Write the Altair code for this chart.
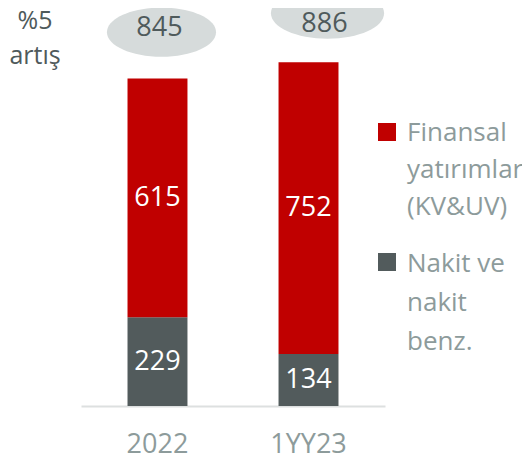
import altair as alt
import pandas as pd

categories = ["2022", "1YY23"]
nakit = [229, 134]
finansal = [615, 752]
totals = [845, 886]
series = ["Nakit ve nakit benz.", "Finansal yatırımlar (KV&UV)"]
legend_fin = "Finansal\nyatırımlar\n(KV&UV)"
legend_nakit = "Nakit ve\nnakit\nbenz."
note_text = "%5\nartış"

FONT = "Open Sans"
RED = "#C00000"
GRAY = "#525B5C"
ELL = "#D6DBDB"
DARK = "#4F5A5B"
LIGHT = "#8D9B9B"
ELLIPSE = "M-1,0A1,0.45,0,1,0,1,0A1,0.45,0,1,0,-1,0Z"

rows = []
for i, c in enumerate(categories):
    rows.append({"cat": c, "series": series[0], "value": nakit[i], "order": 0})
    rows.append({"cat": c, "series": series[1], "value": finansal[i], "order": 1})
df = pd.DataFrame(rows)
tot = pd.DataFrame({"cat": categories, "total": totals})

xs = alt.X(
    "cat:N",
    sort=categories,
    scale=alt.Scale(paddingInner=0.603, paddingOuter=0.308),
    axis=alt.Axis(
        title=None, labelAngle=0, ticks=False, domainColor="#DDE0E0",
        domainWidth=2, labelColor=LIGHT, labelFontSize=27, labelPadding=25,
        labelFont=FONT,
    ),
)
yscale = alt.Scale(domain=[0, 1000])

base = (
    alt.Chart(df)
    .transform_stack(stack="value", groupby=["cat"], as_=["v0", "v1"],
                     sort=[alt.SortField("order")])
    .transform_calculate(mid="(datum.v0 + datum.v1) / 2")
)

bars = base.mark_bar().encode(
    x=xs,
    y=alt.Y("v0:Q", scale=yscale, axis=None),
    y2="v1:Q",
    color=alt.Color("series:N", scale=alt.Scale(domain=series, range=[GRAY, RED]), legend=None),
)
vals = base.mark_text(color="white", fontSize=27, font=FONT, baseline="middle").encode(
    x=xs, y=alt.Y("mid:Q", scale=yscale), text="value:Q"
)

tb = alt.Chart(tot)
ell1 = tb.transform_filter(alt.datum.cat == categories[0]).mark_point(
    shape=ELLIPSE, size=11900, filled=True, fill=ELL, opacity=1, xOffset=4, yOffset=-46
).encode(x=xs, y=alt.Y("total:Q", scale=yscale))
ell2 = tb.transform_filter(alt.datum.cat == categories[1]).mark_point(
    shape=ELLIPSE, size=12800, filled=True, fill=ELL, opacity=1, xOffset=19, yOffset=-49
).encode(x=xs, y=alt.Y("total:Q", scale=yscale))
t1 = tb.transform_filter(alt.datum.cat == categories[0]).mark_text(
    fontSize=27, font=FONT, color=DARK, baseline="middle", dx=2, dy=-50
).encode(x=xs, y=alt.Y("total:Q", scale=yscale), text="total:Q")
t2 = tb.transform_filter(alt.datum.cat == categories[1]).mark_text(
    fontSize=27, font=FONT, color=DARK, baseline="middle", dx=16, dy=-38
).encode(x=xs, y=alt.Y("total:Q", scale=yscale), text="total:Q")

note = alt.Chart(pd.DataFrame({"t": [note_text]})).mark_text(
    fontSize=25, font=FONT, color=DARK, align="center", baseline="alphabetic",
    lineBreak="\n", lineHeight=35,
).encode(x=alt.value(-46), y=alt.value(11), text="t:N")

leg_df = pd.DataFrame({"t": [legend_fin, legend_nakit], "s": [series[1], series[0]]})
sq1 = alt.Chart(leg_df).transform_filter(alt.datum.s == series[1]).mark_square(
    size=324, filled=True, opacity=1, color=RED
).encode(x=alt.value(306), y=alt.value(114))
sq2 = alt.Chart(leg_df).transform_filter(alt.datum.s == series[0]).mark_square(
    size=324, filled=True, opacity=1, color=GRAY
).encode(x=alt.value(306), y=alt.value(244))
lt1 = alt.Chart(leg_df).transform_filter(alt.datum.s == series[1]).mark_text(
    fontSize=26, font=FONT, color=LIGHT, align="left", baseline="alphabetic",
    lineBreak="\n", lineHeight=37,
).encode(x=alt.value(326), y=alt.value(123), text="t:N")
lt2 = alt.Chart(leg_df).transform_filter(alt.datum.s == series[0]).mark_text(
    fontSize=26, font=FONT, color=LIGHT, align="left", baseline="alphabetic",
    lineBreak="\n", lineHeight=39,
).encode(x=alt.value(326), y=alt.value(254), text="t:N")

chart = (
    alt.layer(bars, vals, ell1, ell2, t1, t2, note, sq1, sq2, lt1, lt2)
    .properties(
        width=304, height=388,
        autosize=alt.AutoSizeParams(type="none"),
        padding={"left": 73, "top": 10, "right": 137, "bottom": 54},
    )
    .configure_view(stroke=None)
)

chart.save("out.html", embed_options={"renderer": "svg", "actions": False})
